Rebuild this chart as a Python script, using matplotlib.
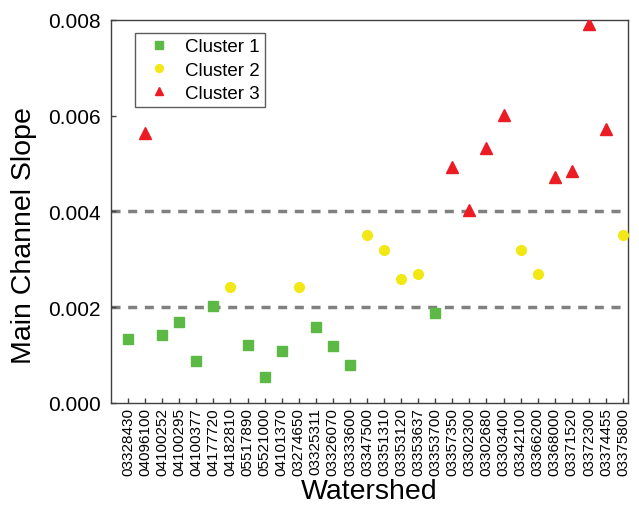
import matplotlib
matplotlib.use("Agg")
import matplotlib.pyplot as plt

plt.rcParams['font.family'] = ['Liberation Sans', 'DejaVu Sans']

watersheds = ["03328430", "04096100", "04100252", "04100295", "04100377", "04177720",
              "04182810", "05517890", "05521000", "04101370", "03274650", "03325311",
              "03326070", "03333600", "03347500", "03351310", "03353120", "03353637",
              "03353700", "03357350", "03302300", "03302680", "03303400", "03342100",
              "03366200", "03368000", "03371520", "03372300", "03374455", "03375800"]
slope = [0.00134, 0.00565, 0.00142, 0.00170, 0.00088, 0.00202,
         0.00242, 0.00122, 0.00055, 0.00109, 0.00242, 0.00159,
         0.00119, 0.00079, 0.00350, 0.00320, 0.00260, 0.00270,
         0.00189, 0.00492, 0.00403, 0.00532, 0.00602, 0.00320,
         0.00270, 0.00472, 0.00484, 0.00791, 0.00572, 0.00350]
cluster = [1, 3, 1, 1, 1, 1, 2, 1, 1, 1, 2, 1, 1, 1, 2,
           2, 2, 2, 1, 3, 3, 3, 3, 2, 2, 3, 3, 3, 3, 2]
thresholds = [0.002, 0.004]

styles = {1: ('s', '#5cb946', 6.5), 2: ('o', '#f2e813', 7), 3: ('^', '#ec1c24', 8)}

fig = plt.figure(figsize=(6.39, 5.06), dpi=100)
ax = fig.add_axes([0.1737, 0.2016, 0.8093, 0.7569])

for y in thresholds:
    ax.axhline(y, color='#808080', lw=2.5, ls=(0, (2.6, 2.2)), zorder=1)

x = list(range(len(watersheds)))
for c in (1, 2, 3):
    xs = [i for i in x if cluster[i] == c]
    ys = [slope[i] for i in x if cluster[i] == c]
    m, col, ms = styles[c]
    ax.plot(xs, ys, ls='none', marker=m, color=col, ms=ms, mec=col,
            label=f'Cluster {c}', zorder=3)

ax.set_xlim(-1, 29.3)
ax.set_ylim(0, 0.008)
ax.set_xticks(x)
ax.set_xticklabels(watersheds, rotation=90, fontsize=11)
ax.set_yticks([0, 0.002, 0.004, 0.006, 0.008])
ax.set_yticklabels(['0.000', '0.002', '0.004', '0.006', '0.008'], fontsize=15)
ax.tick_params(direction='in', length=3.6, width=1, top=False, right=False,
               color='#404040')
ax.tick_params(axis='y', pad=7.5)
ax.tick_params(axis='x', pad=3)
ax.set_xlabel('Watershed', fontsize=20.5)
ax.set_ylabel('Main Channel Slope', fontsize=20.5)
ax.xaxis.set_label_coords(0.5, -0.196)
ax.yaxis.set_label_coords(-0.143, 0.441)
for s in ax.spines.values():
    s.set_color('#404040')
    s.set_linewidth(1)

leg = ax.legend(loc='upper left', bbox_to_anchor=(0.046, 0.966), fontsize=13.5,
                frameon=True, fancybox=False, edgecolor='#333333', markerscale=0.8,
                handlelength=2, handletextpad=0.4, borderpad=0.28, labelspacing=0.33,
                borderaxespad=0)
leg.get_frame().set_linewidth(1)

fig.savefig('out.png', dpi=100)
